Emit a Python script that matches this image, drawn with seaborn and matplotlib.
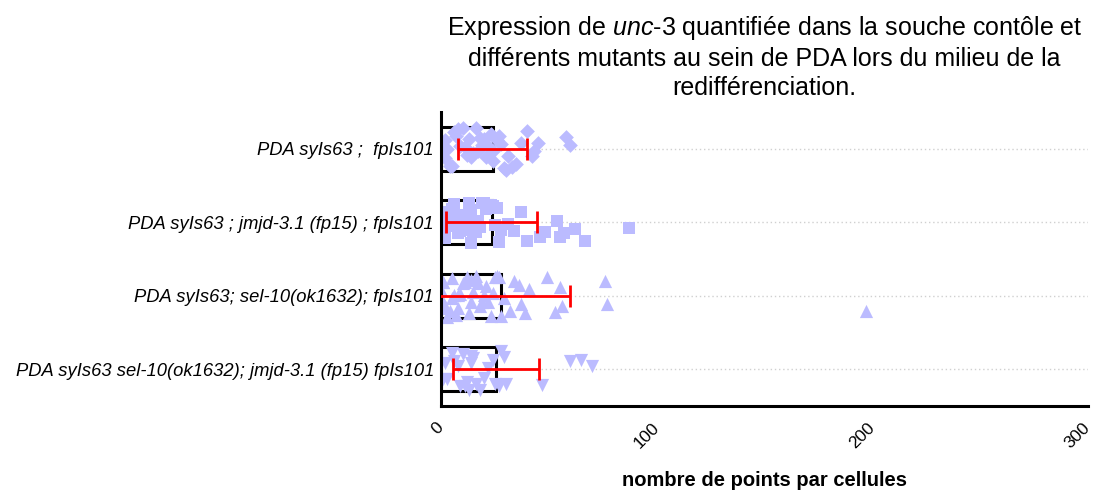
import numpy as np
import pandas as pd
import seaborn as sns
import matplotlib.pyplot as plt

categories = [
    "PDA syIs63 ;  fpIs101",
    "PDA syIs63 ; jmjd-3.1 (fp15) ; fpIs101",
    "PDA syIs63; sel-10(ok1632); fpIs101",
    "PDA syIs63 sel-10(ok1632); jmjd-3.1 (fp15) fpIs101",
]
means = [24, 23.5, 28, 25.5]
sds = [16, 21, 32, 20]

pts_g1 = [1, 2, 2, 3, 4, 5, 6, 7, 8, 9, 10, 11, 12, 13, 14, 15, 16, 17, 18, 19,
          20, 21, 22, 23, 24, 24, 26, 27, 28, 29, 30, 31, 33, 35, 37, 40, 42, 43,
          45, 58, 60]
pts_g2 = [0, 1, 1, 2, 2, 3, 3, 4, 4, 5, 5, 6, 6, 7, 7, 8, 8, 9, 9, 10, 10, 11, 11,
          12, 12, 13, 13, 14, 14, 15, 15, 16, 17, 18, 19, 20, 21, 22, 23, 24, 25,
          26, 27, 28, 31, 34, 37, 40, 46, 48, 54, 55, 57, 62, 67, 87]
pts_g3 = [0, 0, 1, 1, 2, 2, 3, 4, 5, 5, 6, 7, 8, 8, 9, 10, 11, 12, 13, 14, 14, 15,
          16, 17, 18, 19, 20, 21, 22, 23, 24, 25, 26, 27, 28, 29, 32, 34, 36, 37,
          39, 41, 49, 53, 55, 56, 76, 77, 197]
pts_g4 = [1, 2, 3, 5, 6, 8, 9, 10, 11, 12, 13, 14, 14, 15, 16, 18, 20, 22, 24, 25,
          27, 28, 29, 30, 47, 60, 65, 70]
markers = ["D", "s", "^", "v"]
marker_sizes = [7.5, 8.5, 9.5, 9.5]
x_ticks = [0, 100, 200, 300]

sns.set_theme(style="white")
plt.rcParams["font.family"] = ["Liberation Sans", "DejaVu Sans"]
plt.rcParams["mathtext.fontset"] = "custom"
plt.rcParams["mathtext.it"] = "Liberation Sans:italic"
plt.rcParams["mathtext.rm"] = "Liberation Sans"
for k in ["text.color", "axes.labelcolor", "xtick.color", "ytick.color"]:
    plt.rcParams[k] = "black"

fig = plt.figure(figsize=(10.96, 4.92), dpi=100)
ax = fig.add_axes([441 / 1096, 1 - 406 / 492, (1088 - 441) / 1096, (406 - 112) / 492])

# dotted gridlines at categories
for i in range(len(categories)):
    ax.axhline(i, color="#d0d0d0", lw=1, ls=(0, (1, 2)), zorder=0)

summary = pd.DataFrame({"cat": categories, "mean": means})
sns.barplot(data=summary, x="mean", y="cat", order=categories, orient="h",
            color="white", edgecolor="black", linewidth=2.2, width=0.6,
            errorbar=None, ax=ax, zorder=1)

np.random.seed(3)
groups = [pts_g1, pts_g2, pts_g3, pts_g4]
for cat, pts, mk, ms in zip(categories, groups, markers, marker_sizes):
    df = pd.DataFrame({"cat": [cat] * len(pts), "val": pts})
    sns.stripplot(data=df, x="val", y="cat", order=categories, orient="h",
                  marker=mk, color="#bbbbff", size=ms,
                  linewidth=0, jitter=0.3, ax=ax, zorder=2)

ax.errorbar(means, range(len(categories)), xerr=sds, fmt="none", ecolor="#ff0000",
            elinewidth=2, capsize=8, capthick=2, zorder=3)

ax.set_xlim(0, 300)
ax.set_ylim(3.5, -0.5)
ax.set_xticks(x_ticks)
ax.set_xticklabels([str(t) for t in x_ticks], rotation=45, ha="right", va="center",
                   rotation_mode="anchor", fontsize=12.5)
ax.set_yticks(range(len(categories)))
ax.set_yticklabels(categories, fontsize=13.2, style="italic")
ax.tick_params(axis="x", direction="out", length=7, width=2.2, color="black", pad=7)
ax.tick_params(axis="y", direction="out", length=4, width=2.2, color="black", pad=1)

for side in ["top", "right"]:
    ax.spines[side].set_visible(False)
for side in ["left", "bottom"]:
    ax.spines[side].set_color("black")
    ax.spines[side].set_linewidth(2.2)

ax.set_ylabel("")
ax.set_xlabel("nombre de points par cellules", fontsize=14.5, fontweight="bold",
              labelpad=14)
ax.set_title("Expression de $\\mathit{unc}$-$\\mathit{3}$ quantifiée dans la souche contôle et\n"
             "différents mutants au sein de PDA lors du milieu de la\n"
             "redifférenciation.", fontsize=18, linespacing=1.26, pad=12)

fig.savefig("out.png", dpi=100)
